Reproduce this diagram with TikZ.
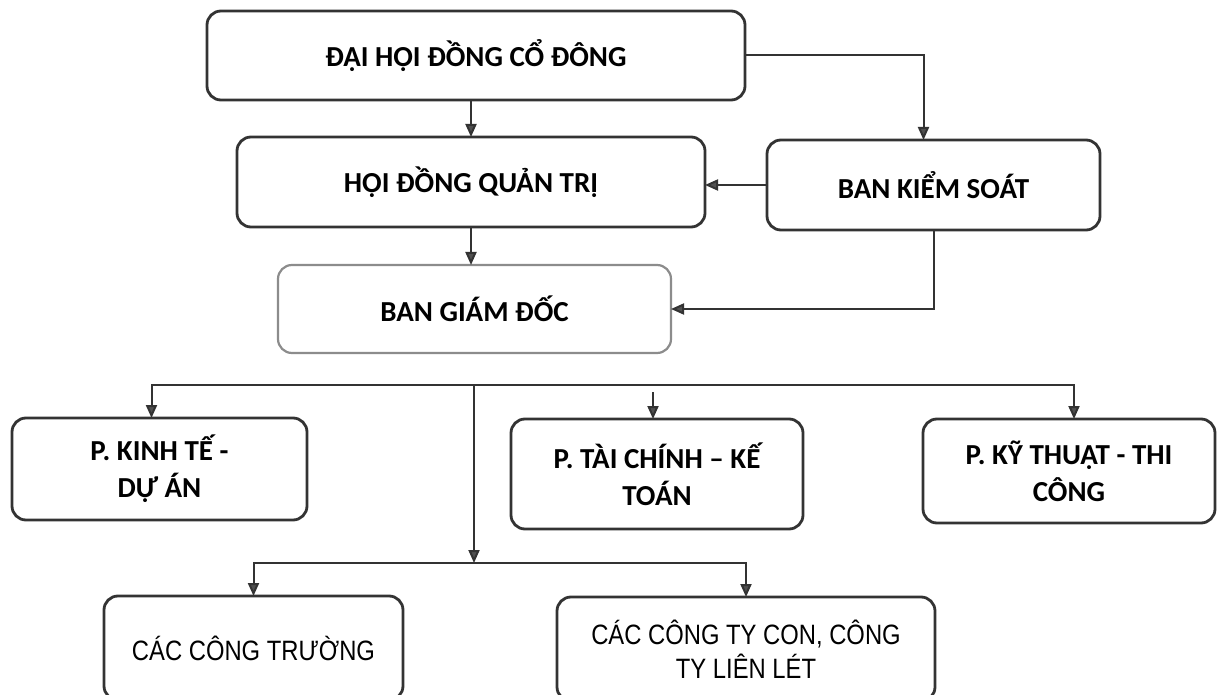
\documentclass[tikz,border=0pt]{standalone}
\usepackage{fontspec}
\setmainfont{Carlito}
\newfontfamily\narrowfont[FakeStretch=0.85]{Liberation Sans}
\usetikzlibrary{arrows.meta}
\definecolor{ln}{HTML}{333333}
\definecolor{tipc}{HTML}{505050}
\tikzset{
  box/.style={draw=ln, line width=2.8pt, rounded corners=14pt, anchor=north west,
    inner sep=0pt, outer sep=0pt, align=center, text=black,
    font=\bfseries\fontsize{29}{37}\selectfont},
  lightbox/.style={box, draw=black!45, line width=2.2pt},
  lowbox/.style={box, font=\narrowfont\fontsize{28}{34}\selectfont},
  conn/.style={draw=ln, line width=2pt},
  arr/.style={conn, -{Triangle[length=13pt,width=11pt,fill=tipc]}},
}
\begin{document}
\begin{tikzpicture}[x=1pt,y=-1pt]
\clip (0,0) rectangle (1221,695);
\fill[white] (0,0) rectangle (1221,695);

\node[box, minimum width=538pt, minimum height=89pt] (dh) at (207,11) {ĐẠI HỘI ĐỒNG CỔ ĐÔNG};
\node[box, minimum width=468pt, minimum height=90pt] (hd) at (237,137) {HỘI ĐỒNG QUẢN TRỊ};
\node[box, minimum width=333pt, minimum height=90pt] (bks) at (767,140) {BAN KIỂM SOÁT};
\node[lightbox, minimum width=393pt, minimum height=88pt] (bgd) at (278,265) {BAN GIÁM ĐỐC};

\node[box, minimum width=295pt, minimum height=102pt] (pk) at (12,418) {P. KINH TẾ -\\DỰ ÁN};
\node[box, minimum width=292pt, minimum height=110pt] (pt) at (511,419) {P. TÀI CHÍNH -- KẾ\\TOÁN};
\node[box, minimum width=292pt, minimum height=104pt] (pkt) at (923,419) {P. KỸ THUẬT - THI\\CÔNG};

\node[lowbox, minimum width=299pt, minimum height=104pt] (ct) at (104,596) {CÁC CÔNG TRƯỜNG};
\node[lowbox, minimum width=378pt, minimum height=104pt] (cty) at (557,597) {CÁC CÔNG TY CON, CÔNG\\TY LIÊN LÉT};

% top connectors
\draw[arr] (hd.north |- dh.south) -- (hd.north);
\draw[arr] (dh.east) -| ([xshift=-10pt]bks.north);
\draw[arr] (bks.west) -- (bks.west -| hd.east);
\draw[arr] (hd.south) -- (hd.south |- bgd.north);
\draw[arr] (bks.south) |- (bgd.east);

% buses
\coordinate (b1) at (474,385);
\coordinate (b2) at (474,563);
\draw[arr] (b1) -| ([xshift=-8pt]pk.north);
\draw[arr] (b1) -| ([xshift=5pt]pkt.north);
\draw[arr] ([xshift=-4pt,yshift=27pt]pt.north) -- ([xshift=-4pt]pt.north);
\draw[arr] (b1) -- (b2);
\draw[arr] (b2) -| (ct.north);
\draw[arr] (b2) -| (cty.north);
\end{tikzpicture}
\end{document}
